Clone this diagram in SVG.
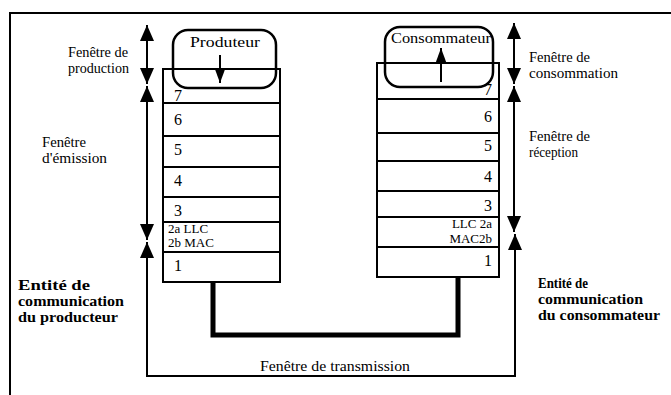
<svg xmlns="http://www.w3.org/2000/svg" width="671" height="395" viewBox="0 0 671 395" font-family="'Liberation Serif', 'DejaVu Serif', serif">
<style>
text{font-family:"Liberation Serif","DejaVu Serif",serif;font-size:15px;fill:#000}
.n{font-size:16px}
.b{font-weight:bold;font-size:15px}
.s{font-size:13px}
.r{text-anchor:end}
.layer{fill:#fff;stroke:#000;stroke-width:2}
.box{fill:none;stroke:#000;stroke-width:2.5}
.ln{fill:none;stroke:#000;stroke-width:2}
.thick{fill:none;stroke:#000;stroke-width:5}
</style>
<defs>
<marker id="ah" viewBox="0 0 16 14" refX="16" refY="7" markerWidth="16" markerHeight="14" markerUnits="userSpaceOnUse" orient="auto-start-reverse">
<path d="M0,0 L16,7 L0,14 Z" fill="#000"/>
</marker>
<marker id="ahs" viewBox="0 0 15 11" refX="15" refY="5.5" markerWidth="15" markerHeight="11" markerUnits="userSpaceOnUse" orient="auto-start-reverse">
<path d="M0,0 L15,5.5 L0,11 Z" fill="#000"/>
</marker>
</defs>
<rect width="671" height="395" fill="#fff"/>
<g id="frame">
<path class="ln" d="M10,395 V13 H671" stroke-width="2.5"/>
</g>
<g id="stack-producteur">
<rect class="layer" x="163" y="69" width="117" height="34"/>
<rect class="layer" x="163" y="103" width="117" height="33"/>
<rect class="layer" x="163" y="136" width="117" height="31"/>
<rect class="layer" x="163" y="167" width="117" height="30"/>
<rect class="layer" x="163" y="197" width="117" height="25"/>
<rect class="layer" x="163" y="222" width="117" height="30"/>
<rect class="layer" x="163" y="252" width="117" height="30"/>
<text class="n" x="174" y="101">7</text>
<text class="n" x="174" y="125">6</text>
<text class="n" x="174" y="155">5</text>
<text class="n" x="174" y="186">4</text>
<text class="n" x="174" y="216">3</text>
<text class="s" x="168" y="233">2a  LLC</text>
<text class="s" x="168" y="247">2b  MAC</text>
<text class="n" x="174" y="271">1</text>
</g>
<g id="stack-consommateur">
<rect class="layer" x="377" y="63" width="122" height="36"/>
<rect class="layer" x="377" y="99" width="122" height="34"/>
<rect class="layer" x="377" y="133" width="122" height="28"/>
<rect class="layer" x="377" y="161" width="122" height="30"/>
<rect class="layer" x="377" y="191" width="122" height="26"/>
<rect class="layer" x="377" y="217" width="122" height="30"/>
<rect class="layer" x="377" y="247" width="122" height="30"/>
<text class="n r" x="492" y="95">7</text>
<text class="n r" x="492" y="122">6</text>
<text class="n r" x="492" y="151">5</text>
<text class="n r" x="492" y="182">4</text>
<text class="n r" x="492" y="211">3</text>
<text class="s r" x="492" y="228">LLC  2a</text>
<text class="s r" x="492" y="243">MAC2b</text>
<text class="n r" x="492" y="266">1</text>
</g>
<g id="producteur">
<rect class="box" x="173" y="30" width="103" height="58" rx="15"/>
<text x="190" y="47" textLength="70" lengthAdjust="spacingAndGlyphs">Produteur</text>
</g>
<g id="consommateur">
<rect class="box" x="385" y="27" width="108" height="60" rx="15"/>
<text x="391" y="43" textLength="100" lengthAdjust="spacingAndGlyphs">Consommateur</text>
</g>
<g id="labels">
<text x="68" y="57" textLength="60" lengthAdjust="spacingAndGlyphs">Fenêtre de</text>
<text x="68" y="73" textLength="61" lengthAdjust="spacingAndGlyphs">production</text>
<text x="42" y="147" textLength="44" lengthAdjust="spacingAndGlyphs">Fenêtre</text>
<text x="42" y="163" textLength="65" lengthAdjust="spacingAndGlyphs">d'émission</text>
<text x="529" y="62" textLength="61" lengthAdjust="spacingAndGlyphs">Fenêtre de</text>
<text x="529" y="78" textLength="89" lengthAdjust="spacingAndGlyphs">consommation</text>
<text x="529" y="141" textLength="61" lengthAdjust="spacingAndGlyphs">Fenêtre de</text>
<text x="529" y="157" textLength="49" lengthAdjust="spacingAndGlyphs">réception</text>
<text x="260" y="371" textLength="150" lengthAdjust="spacingAndGlyphs">Fenêtre de transmission</text>
<text class="b" x="18" y="290" textLength="72" lengthAdjust="spacingAndGlyphs">Entité de</text>
<text class="b" x="18" y="306" textLength="106" lengthAdjust="spacingAndGlyphs">communication</text>
<text class="b" x="18" y="322" textLength="100" lengthAdjust="spacingAndGlyphs">du producteur</text>
<text class="b" x="538" y="288" textLength="50" lengthAdjust="spacingAndGlyphs">Entité de</text>
<text class="b" x="538" y="304" textLength="105" lengthAdjust="spacingAndGlyphs">communication</text>
<text class="b" x="538" y="320" textLength="122" lengthAdjust="spacingAndGlyphs">du consommateur</text>
</g>
<g id="connectors">
<line class="ln" x1="147" y1="25" x2="147" y2="84" marker-start="url(#ah)" marker-end="url(#ah)"/>
<line class="ln" x1="147" y1="86" x2="147" y2="240" marker-start="url(#ah)" marker-end="url(#ah)"/>
<polyline class="ln" points="147,242 147,376 515,376 515,234" marker-start="url(#ah)" marker-end="url(#ah)"/>
<line class="ln" x1="514" y1="23" x2="514" y2="84" marker-start="url(#ah)" marker-end="url(#ah)"/>
<line class="ln" x1="514" y1="86" x2="514" y2="232" marker-start="url(#ah)" marker-end="url(#ah)"/>
<line class="ln" x1="220" y1="55" x2="220" y2="83" marker-end="url(#ahs)"/>
<line class="ln" x1="441" y1="82" x2="441" y2="48" marker-end="url(#ahs)"/>
<polyline class="thick" points="213,283 213,335 458,335 458,278"/>
</g>
</svg>
